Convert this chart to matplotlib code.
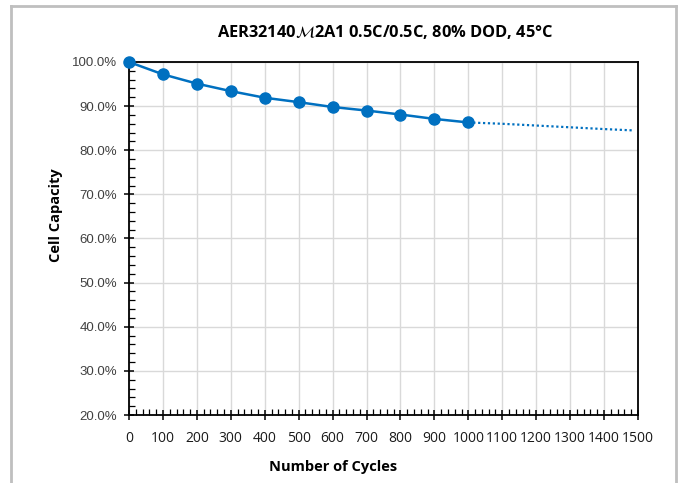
import matplotlib
matplotlib.use("Agg")
import matplotlib.pyplot as plt
from matplotlib.lines import Line2D
from matplotlib.ticker import MultipleLocator, FuncFormatter

cycles = [0, 100, 200, 300, 400, 500, 600, 700, 800, 900, 1000]
capacity = [100.0, 97.2, 95.1, 93.4, 91.9, 90.9, 89.8, 89.0, 88.1, 87.1, 86.3]
trend_cycles = [1000, 1100, 1200, 1300, 1400, 1485]
trend_capacity = [86.3, 86.0, 85.6, 85.2, 84.8, 84.5]

title = r"AER32140$\mathcal{M}$2A1 0.5C/0.5C, 80% DOD, 45°C"
xlabel = "Number of Cycles"
ylabel = "Cell Capacity"

plt.rcParams['font.family'] = ['Liberation Sans', 'DejaVu Sans']

fig = plt.figure(figsize=(6.79, 4.83), dpi=100)
ax = fig.add_axes([129/679, 1-415/483, (638-129)/679, (415-62)/483])

blue = '#0070C0'
ax.plot(cycles, capacity, color=blue, lw=1.8, marker='o', ms=8, zorder=4, clip_on=False)
ax.plot(trend_cycles, trend_capacity, color=blue, lw=1.6, ls=(0, (1, 1.2)), zorder=3)

ax.set_xlim(0, 1500)
ax.set_ylim(20, 100)
ax.xaxis.set_major_locator(MultipleLocator(100))
ax.xaxis.set_minor_locator(MultipleLocator(20))
ax.yaxis.set_major_locator(MultipleLocator(10))
ax.yaxis.set_minor_locator(MultipleLocator(2))
ax.yaxis.set_major_formatter(FuncFormatter(lambda v, p: f"{v:.1f}%"))
ax.grid(True, which='major', color='#d9d9d9', lw=1.0)
ax.set_axisbelow(True)

for s in ax.spines.values():
    s.set_color('black')
    s.set_linewidth(1.3)

ax.tick_params(which='major', direction='inout', length=7, width=1.1, colors='black')
ax.tick_params(which='minor', direction='in', length=4, width=0.9, colors='black')
ax.tick_params(axis='y', which='major', labelsize=9.5, labelcolor='#404040', pad=5)
ax.tick_params(axis='x', which='major', labelsize=10, labelcolor='#1a1a1a', pad=8)
for lbl in ax.get_xticklabels():
    lbl.set_fontfamily(['Open Sans', 'DejaVu Sans'])

ax.text(0.5035, 1 + (62-32)/353, title, transform=ax.transAxes, ha='center', va='center',
        fontsize=11.8, fontweight='bold', fontfamily=['Open Sans', 'DejaVu Sans'])
ax.set_xlabel(xlabel, fontsize=10.5, fontweight='bold', fontfamily=['Open Sans', 'DejaVu Sans'])
ax.set_ylabel(ylabel, fontsize=10.5, fontweight='bold', fontfamily=['Open Sans', 'DejaVu Sans'])
ax.xaxis.set_label_coords((333-129)/509, -(467-415)/353)
ax.yaxis.set_label_coords((56-129)/509, (415-215)/353)
ax.xaxis.label.set_va('center')
ax.yaxis.label.set_va('center')

# outer light gray frame
fc = '#bfbfbf'
fig.add_artist(Line2D([11/679, 11/679], [0, 1-6/483], transform=fig.transFigure, color=fc, lw=2))
fig.add_artist(Line2D([676/679, 676/679], [0, 1-6/483], transform=fig.transFigure, color=fc, lw=2))
fig.add_artist(Line2D([11/679, 676/679], [1-6/483, 1-6/483], transform=fig.transFigure, color=fc, lw=2))

fig.savefig('out.png', dpi=100)
